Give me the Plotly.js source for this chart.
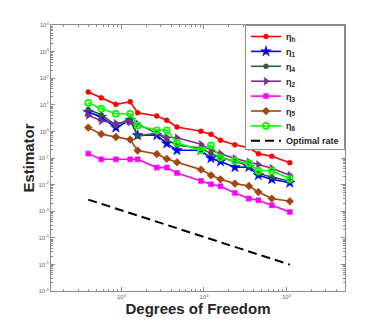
<!DOCTYPE html>
<html>
<head>
<meta charset="utf-8">
<script src="https://cdn.plot.ly/plotly-3.0.1.min.js"></script>
<style>
  body { margin: 0; background: #fff; }
  #chart { width: 382px; height: 327px; }
</style>
</head>
<body>
<div id="chart"></div>
<script>
// degrees of freedom (shared by all estimators)
let dof = [396, 569, 856, 1274, 1570, 2680, 3540, 4710, 9200, 12160, 15850, 23700, 35000, 45600, 66400, 109700];

let etaH = [30.3, 18.3, 10.4, 13.0, 5.0, 3.79, 2.61, 1.46, 1.01, 0.78, 0.463, 0.313, 0.242, 0.146, 0.116, 0.067];
let eta1 = [5.36, 3.48, 1.39, 2.61, 0.713, 0.713, 0.348, 0.195, 0.195, 0.0975, 0.0733, 0.0447, 0.0459, 0.0224, 0.0158, 0.0117];
let eta4 = [6.6, 4.2, 1.69, 3.03, 0.655, 0.87, 0.492, 0.30, 0.238, 0.146, 0.1035, 0.0752, 0.050, 0.0259, 0.0193, 0.0133];
let eta2 = [4.03, 2.50, 2.02, 2.26, 1.93, 0.826, 0.60, 0.574, 0.327, 0.195, 0.146, 0.095, 0.0708, 0.0565, 0.041, 0.0224];
let eta3 = [0.146, 0.0893, 0.0893, 0.0893, 0.0893, 0.0436, 0.0436, 0.0273, 0.0137, 0.0103, 0.00863, 0.00483, 0.00298, 0.00257, 0.00167, 0.00093];
let eta5 = [1.39, 0.79, 0.615, 0.492, 0.19, 0.141, 0.0933, 0.0689, 0.0366, 0.0224, 0.0158, 0.0109, 0.00886, 0.00527, 0.00298, 0.00236];
let eta6 = [11.9, 7.2, 4.59, 4.59, 1.67, 1.10, 1.10, 0.372, 0.195, 0.30, 0.1035, 0.077, 0.0632, 0.033, 0.033, 0.0165];

// reference slope line
let optDof = [396, 109700];
let optRate = [0.00273, 9.8e-6];

let names = ["η<sub>h</sub>", "η<sub>1</sub>", "η<sub>4</sub>", "η<sub>2</sub>", "η<sub>3</sub>", "η<sub>5</sub>", "η<sub>6</sub>"];
let xExp = [3, 4, 5];
let yExp = [-6, -5, -4, -3, -2, -1, 0, 1, 2, 3, 4];

function powVals(exps) {
  return exps.map(function(e) { return Math.pow(10, e); });
}
function powText(exps) {
  return exps.map(function(e) { return "10<sup>" + e + "</sup>"; });
}

//minor tick positions 2..9 in each decade
function minorTicks(lo, hi) {
  let vals = [];
  for (let e = lo; e < hi; e++) {
    for (let m = 2; m <= 9; m++) {
      vals.push(m * Math.pow(10, e));
    }
  }
  return vals;
}

function series(y, name, color, symbol, size, open) {
  return {
    x: dof, y: y, name: name, type: "scatter", mode: "lines+markers",
    line: {color: color, width: 1.6},
    marker: open
      ? {symbol: symbol, size: size, color: color, line: {color: color, width: 1.8}}
      : {symbol: symbol, size: size, color: color, line: {color: color, width: 0.5}}
  };
}

let data = [
  series(etaH, names[0], "#ff0000", "circle", 5),
  series(eta1, names[1], "#0000ff", "star", 8),
  series(eta4, names[2], "#2e5c3c", "circle", 5),
  series(eta2, names[3], "#7e2f8e", "triangle-right", 7),
  series(eta3, names[4], "#ff00ff", "square", 5),
  series(eta5, names[5], "#a0470f", "diamond", 6),
  series(eta6, names[6], "#00ff00", "circle-open", 6, true),
  {
    x: optDof, y: optRate, name: "Optimal rate", type: "scatter", mode: "lines",
    line: {color: "#000000", width: 2, dash: "9px,5px"}
  }
];

let axisColor = "#8c8c8c";
let tickFont = {family: "Liberation Sans, Arial, sans-serif", size: 6, color: "#666"};

let layout = {
  width: 382, height: 327,
  margin: {l: 51, r: 37, t: 25, b: 36},
  paper_bgcolor: "#ffffff", plot_bgcolor: "#ffffff",
  font: {family: "Liberation Sans, Arial, sans-serif", color: "#262626"},
  showlegend: true,
  legend: {
    x: 1, xanchor: "right", y: 1, yanchor: "top",
    bgcolor: "#ffffff", bordercolor: "#8c8c8c", borderwidth: 1,
    font: {size: 9, weight: "bold", color: "#262626"},
    itemwidth: 30, tracegroupgap: 0
  },
  xaxis: {
    type: "log", range: [2.146, 5.709],
    tickmode: "array", tickvals: powVals(xExp), ticktext: powText(xExp),
    ticks: "inside", ticklen: 4, tickcolor: axisColor, tickfont: tickFont,
    minor: {tickmode: "array", tickvals: minorTicks(2, 6), ticks: "inside", ticklen: 2, tickcolor: axisColor},
    showline: true, linecolor: axisColor, linewidth: 1, mirror: "allticks",
    showgrid: false, zeroline: false,
    title: {text: "Degrees of Freedom", font: {size: 15, weight: "bold", color: "#262626"}, standoff: 0}
  },
  yaxis: {
    type: "log", range: [-6, 4],
    tickmode: "array", tickvals: powVals(yExp), ticktext: powText(yExp),
    ticks: "inside", ticklen: 4, tickcolor: axisColor, tickfont: tickFont,
    minor: {tickmode: "array", tickvals: minorTicks(-6, 4), ticks: "inside", ticklen: 2, tickcolor: axisColor},
    showline: true, linecolor: axisColor, linewidth: 1, mirror: "allticks",
    showgrid: false, zeroline: false,
    title: {text: "Estimator", font: {size: 15, weight: "bold", color: "#262626"}, standoff: 0}
  }
};

// plotly keeps at least 19px per legend row, the figure packs them tighter
function squeezeLegend(gd, top, pitch) {
  let items = gd.querySelectorAll("g.legend g.traces");
  if (!items.length) return;
  let m = /translate\(\s*([-\d.]+)[ ,]+([-\d.]+)\)/.exec(items[0].getAttribute("transform"));
  let x0 = m ? parseFloat(m[1]) : 0;
  items.forEach(function(el, i) {
    el.setAttribute("transform", "translate(" + x0 + "," + (top + i * pitch) + ")");
  });
  let bg = gd.querySelector("g.legend rect.bg");
  if (bg) bg.setAttribute("height", top + (items.length - 1) * pitch + 8);
}

let gd = document.getElementById("chart");
Plotly.newPlot(gd, data, layout, {displayModeBar: false, staticPlot: true}).then(function() {
  squeezeLegend(gd, 11.5, 14.9);
});
</script>
</body>
</html>
